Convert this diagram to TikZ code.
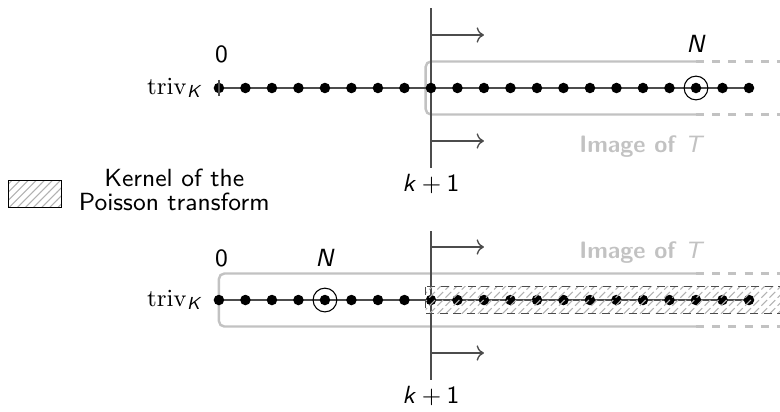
\documentclass[tikz,border=0pt]{standalone}
\usepackage{amsmath,amssymb}
\usepackage{tikz}
\usetikzlibrary{patterns,positioning,arrows.meta}

\definecolor{imggray}{gray}{0.76}
\newcommand{\sv}[1]{\textsf{\textsl{#1}}}

\tikzset{
  dot/.style={circle, fill=black, inner sep=0pt, minimum size=3.9pt},
  ring/.style={circle, draw=black, thin, inner sep=0pt, minimum size=8.8pt},
  rowline/.style={black!70, line width=0.5pt},
  cutline/.style={black!70, line width=0.6pt},
  imgline/.style={imggray, line width=0.9pt},
  imglabel/.style={imggray, font=\sffamily\bfseries\fontsize{8.8}{10}\selectfont},
  kernel/.style={pattern=north east lines, pattern color=gray!60, draw=black!70, densely dashed, line width=0.4pt},
}

\begin{document}
\begin{tikzpicture}[x=0.345cm, y=0.345cm, font=\sffamily\fontsize{9.2}{10}\selectfont]
\useasboundingbox (-8.26,-12.19) rectangle (21.17,3.32);

% Image of T, top row
\draw[imgline, rounded corners=2pt] (18,1) -- (7.8,1) -- (7.8,-1) -- (18,-1);
\draw[imgline, dashed] (18,1) -- (21.3,1);
\draw[imgline, dashed] (18,-1) -- (21.3,-1);

% Image of T, bottom row
\draw[imgline, rounded corners=2pt] (18,-7) -- (0,-7) -- (0,-9) -- (18,-9);
\draw[imgline, dashed] (18,-7) -- (21.3,-7);
\draw[imgline, dashed] (18,-9) -- (21.3,-9);

% Cut at k+1 with arrows
\foreach \r/\y/\h in {t/0/3, b/-8/2.6} {
  \coordinate (\r cuta) at (8,\y+\h);
  \coordinate (\r cutb) at (8,\y-3);
  \draw[cutline] (\r cuta) -- (\r cutb);
  \coordinate (\r arra) at (8,\y+2);
  \coordinate (\r arrae) at (10,\y+2);
  \coordinate (\r arrb) at (8,\y-2);
  \coordinate (\r arrbe) at (10,\y-2);
  \draw[rowline, ->] (\r arra) -- (\r arrae);
  \draw[rowline, ->] (\r arrb) -- (\r arrbe);
  \node (\r klab) at (8,\y-3.62) {\sv{k}${}+{}$1};
}

% Rows of points
\foreach \r/\y/\z in {t/0/1.25, b/-8/1.58} {
  \foreach \i in {0,...,20}
    \coordinate (\r\i) at (\i,\y);
  \draw[rowline] (\r0) -- (\r20);
  \foreach \i in {0,...,20}
    \node[dot] (\r d\i) at (\r\i) {};
  \node[anchor=east] (\r triv) at (-0.25,\y) {$\mathrm{triv}_{\sv{K}}$};
  \node (\r zero) at (0.1,\y+\z) {0};
}
\draw[rowline] ([yshift=3pt]t0) -- ([yshift=-3pt]t0);

% N in each row
\node[ring] (tN) at (t18) {};
\node (tNlab) at (18,1.66) {\sv{N}};
\node[ring] (bN) at (b4) {};
\node (bNlab) at (4,-6.4) {\sv{N}};

% Image labels
\node[imglabel] (timg) at (15.96,-2.2) {Image of \textmd{\sv{T}}};
\node[imglabel] (bimg) at (15.96,-6.2) {Image of \textmd{\sv{T}}};

% Kernel of the Poisson transform
\draw[kernel] (7.8,-7.5) rectangle (21.5,-8.5);

% Legend
\node[draw=black, line width=0.4pt, pattern=north east lines, pattern color=gray!60,
      minimum width=0.69cm, minimum height=0.345cm, inner sep=0pt] (legbox) at (-6.95,-4) {};
\node[right=0.1cm of legbox, align=center, yshift=1.5pt,
      font=\sffamily\fontsize{9.2}{8.6}\selectfont] (legtext) {Kernel of the\\Poisson transform};

\end{tikzpicture}
\end{document}
